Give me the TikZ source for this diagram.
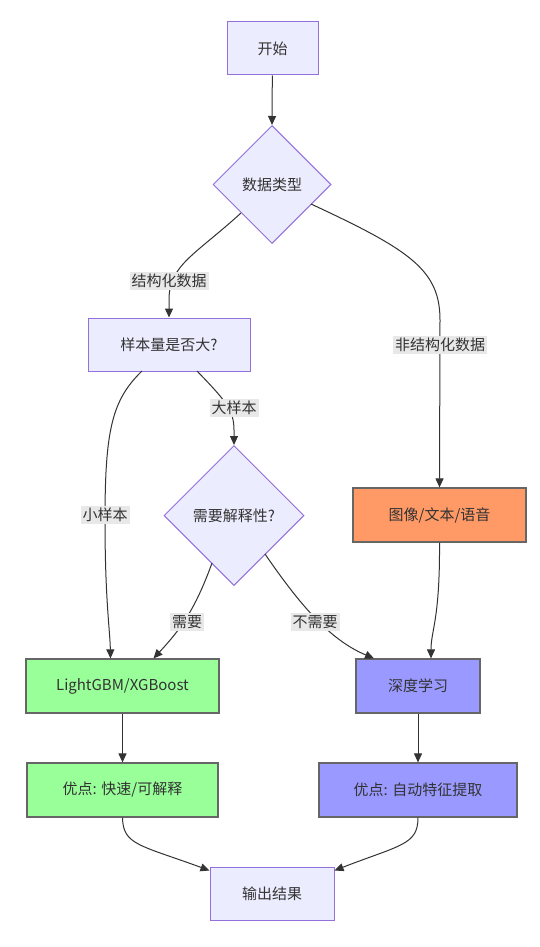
\documentclass[tikz,border=0pt]{standalone}
\usepackage{fontspec}
\setmainfont{Noto Sans CJK SC}
\usetikzlibrary{shapes.geometric,arrows.meta}
\definecolor{txt}{HTML}{333333}
\definecolor{defFill}{HTML}{ECECFF}
\definecolor{defLine}{HTML}{9370DB}
\definecolor{orangeFill}{HTML}{FF9966}
\definecolor{greenFill}{HTML}{99FF99}
\definecolor{blueFill}{HTML}{9999FF}
\definecolor{grayLine}{HTML}{666666}
\definecolor{lblFill}{HTML}{E8E8E8}
\definecolor{edgeCol}{HTML}{333333}
\begin{document}
\begin{tikzpicture}[x=1pt,y=-1pt,
  every node/.style={text=txt,font=\fontsize{15}{18}\selectfont},
  box/.style={draw=defLine,fill=defFill,line width=1pt,rectangle,inner sep=0pt},
  decision/.style={draw=defLine,fill=defFill,line width=1pt,diamond,aspect=1,inner sep=0pt},
  colbox/.style={draw=grayLine,line width=1.2pt,rectangle,inner sep=0pt},
  lbl/.style={fill=lblFill,inner sep=2pt},
  arr/.style={draw=edgeCol,line width=1pt,-{Triangle[length=9pt,width=8pt]}}]
\useasboundingbox (0,0) rectangle (539,947);
\fill[white] (0,0) rectangle (539,947);

\node[box,minimum width=91pt,minimum height=53pt] (start) at (272.5,48.5) {开始};
\node[decision,minimum width=118pt,minimum height=118pt] (dtype) at (272,184.5) {数据类型};
\node[box,minimum width=162pt,minimum height=53pt] (sample) at (169,344.5) {样本量是否大?};
\node[decision,minimum width=140pt,minimum height=140pt] (interp) at (234,515.5) {需要解释性?};
\node[colbox,fill=orangeFill,minimum width=173pt,minimum height=54pt] (img) at (439.5,515) {图像/文本/语音};
\node[colbox,fill=greenFill,minimum width=193pt,minimum height=54pt] (lgbm) at (122.5,686) {LightGBM/XGBoost};
\node[colbox,fill=blueFill,minimum width=124pt,minimum height=54pt] (dl) at (418,686) {深度学习};
\node[colbox,fill=greenFill,minimum width=191pt,minimum height=54pt] (opt1) at (122.5,790) {优点: 快速/可解释};
\node[colbox,fill=blueFill,minimum width=198pt,minimum height=54pt] (opt2) at (418,790) {优点: 自动特征提取};
\node[box,minimum width=124pt,minimum height=53pt] (out) at (272,893.5) {输出结果};

\draw[arr] (start) -- (dtype.north);
\draw[arr] (241,213) .. controls (195,255) and (169,265) .. (169,300) -- (sample.north);
\draw[arr] (311,204) .. controls (410,250) and (440,270) .. (440,320) -- (img.north);
\draw[arr] (197,371) .. controls (225,400) and (234,410) .. (234,430) -- (interp.north);
\draw[arr] (142,371) .. controls (112,400) and (105,430) .. (105,520) .. controls (105,600) and (110,630) .. ([xshift=-12pt]lgbm.north);
\draw[arr] (212,563) .. controls (195,610) and (180,630) .. ([xshift=31pt]lgbm.north);
\draw[arr] (265,554) .. controls (300,605) and (330,640) .. ([xshift=-44pt]dl.north);
\draw[arr] (img.south) .. controls (440,620) and (431,630) .. ([xshift=13pt]dl.north);
\draw[arr] (lgbm) -- (opt1);
\draw[arr] (dl) -- (opt2);
\draw[arr] (opt1.south) .. controls (123,845) and (140,845) .. ([yshift=-4pt]out.north west);
\draw[arr] (opt2.south) .. controls (418,845) and (400,845) .. ([yshift=-4pt]out.north east);

\node[lbl] (l1) at (169,281) {结构化数据};
\node[lbl] (l2) at (440,345) {非结构化数据};
\node[lbl] (l3) at (234,408) {大样本};
\node[lbl] (l4) at (105,515) {小样本};
\node[lbl] (l5) at (187,622) {需要};
\node[lbl] (l6) at (315,622) {不需要};
\end{tikzpicture}
\end{document}
